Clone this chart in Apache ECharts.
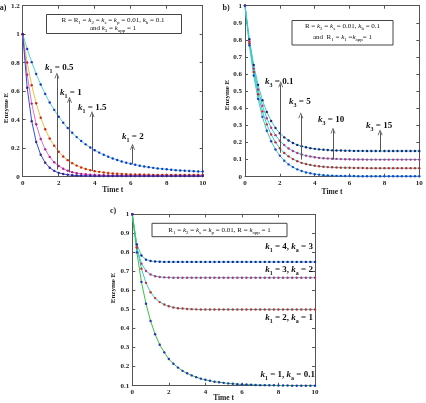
<!DOCTYPE html>
<html>
<head>
<meta charset="utf-8">
<script src="https://cdn.jsdelivr.net/npm/echarts@6/dist/echarts.min.js"></script>
<style>
html, body { margin: 0; padding: 0; background: #fff; }
#chart { width: 426px; height: 403px; }
</style>
</head>
<body>
<div id="chart"></div>
<script>
// time samples shared by all curves
const times = [0,0.25,0.5,0.75,1,1.25,1.5,1.75,2,2.25,2.5,2.75,3,3.25,3.5,3.75,4,4.25,4.5,4.75,5,5.25,5.5,5.75,6,6.25,6.5,6.75,7,7.25,7.5,7.75,8,8.25,8.5,8.75,9,9.25,9.5,9.75,10];

// a) enzyme E for k1 = 0.5, 1, 1.5, 2
const aK1_05 = [1.0,0.896,0.804,0.721,0.647,0.581,0.521,0.469,0.421,0.379,0.342,0.308,0.278,0.251,0.227,0.205,0.186,0.169,0.154,0.140,0.128,0.117,0.107,0.098,0.091,0.084,0.077,0.072,0.067,0.062,0.058,0.055,0.052,0.049,0.046,0.044,0.042,0.040,0.039,0.037,0.036];
const aK1_1 = [1.0,0.801,0.642,0.515,0.414,0.333,0.268,0.217,0.175,0.142,0.116,0.095,0.078,0.065,0.054,0.046,0.039,0.034,0.029,0.026,0.023,0.021,0.019,0.018,0.016,0.016,0.015,0.014,0.014,0.013,0.013,0.013,0.013,0.012,0.012,0.012,0.012,0.012,0.012,0.012,0.012];
const aK1_15 = [1.0,0.716,0.513,0.368,0.265,0.192,0.139,0.101,0.075,0.056,0.042,0.032,0.025,0.020,0.017,0.014,0.012,0.011,0.010,0.009,0.009,0.009,0.009,0.009,0.009,0.008,0.008,0.008,0.008,0.008,0.008,0.008,0.008,0.008,0.008,0.008,0.008,0.008,0.008,0.008,0.008];
const aK1_2 = [1.0,0.624,0.390,0.244,0.154,0.098,0.063,0.041,0.027,0.019,0.014,0.010,0.008,0.007,0.006,0.006,0.005,0.005,0.005,0.005,0.005,0.005,0.005,0.005,0.005,0.005,0.005,0.005,0.005,0.005,0.005,0.005,0.005,0.005,0.005,0.005,0.005,0.005,0.005,0.005,0.005];

// b) enzyme E for k3 = 0.1, 5, 10, 15
const bK3_01 = [1.0,0.769,0.592,0.455,0.350,0.269,0.207,0.159,0.123,0.094,0.072,0.056,0.043,0.033,0.025,0.020,0.015,0.012,0.009,0.007,0.006,0.005,0.005,0.004,0.004,0.004,0.003,0.003,0.003,0.003,0.003,0.003,0.003,0.003,0.003,0.003,0.003,0.003,0.003,0.003,0.003];
const bK3_5 = [1.0,0.781,0.612,0.482,0.382,0.306,0.247,0.201,0.166,0.139,0.119,0.103,0.091,0.081,0.074,0.069,0.064,0.061,0.058,0.056,0.055,0.054,0.053,0.052,0.052,0.051,0.051,0.051,0.050,0.050,0.050,0.050,0.050,0.050,0.050,0.050,0.050,0.050,0.050,0.050,0.050];
const bK3_10 = [1.0,0.792,0.632,0.510,0.415,0.342,0.286,0.243,0.210,0.185,0.165,0.150,0.139,0.130,0.123,0.118,0.114,0.110,0.108,0.106,0.105,0.104,0.103,0.102,0.102,0.101,0.101,0.101,0.100,0.100,0.100,0.100,0.100,0.100,0.100,0.100,0.100,0.100,0.100,0.100,0.100];
const bK3_15 = [1.0,0.804,0.653,0.537,0.447,0.379,0.326,0.285,0.254,0.230,0.212,0.197,0.186,0.178,0.172,0.167,0.163,0.160,0.158,0.156,0.154,0.153,0.153,0.152,0.152,0.151,0.151,0.151,0.150,0.150,0.150,0.150,0.150,0.150,0.150,0.150,0.150,0.150,0.150,0.150,0.150];

// c) enzyme E for (k1, ka) pairs
const cK4_3 = [1.0,0.842,0.784,0.762,0.755,0.752,0.751,0.750,0.750,0.750,0.750,0.750,0.750,0.750,0.750,0.750,0.750,0.750,0.750,0.750,0.750,0.750,0.750,0.750,0.750,0.750,0.750,0.750,0.750,0.750,0.750,0.750,0.750,0.750,0.750,0.750,0.750,0.750,0.750,0.750,0.750];
const cK3_2 = [1.0,0.824,0.741,0.702,0.684,0.675,0.671,0.669,0.668,0.667,0.667,0.667,0.667,0.667,0.667,0.667,0.667,0.667,0.667,0.667,0.667,0.667,0.667,0.667,0.667,0.667,0.667,0.667,0.667,0.667,0.667,0.667,0.667,0.667,0.667,0.667,0.667,0.667,0.667,0.667,0.667];
const cK2_1 = [1.0,0.827,0.714,0.640,0.591,0.560,0.539,0.526,0.517,0.511,0.507,0.505,0.503,0.502,0.501,0.500,0.500,0.500,0.500,0.500,0.500,0.500,0.500,0.500,0.500,0.500,0.500,0.500,0.500,0.500,0.500,0.500,0.500,0.500,0.500,0.500,0.500,0.500,0.500,0.500,0.500];
const cK1_01 = [1.0,0.80,0.645,0.53,0.44,0.37,0.315,0.275,0.24,0.215,0.195,0.178,0.165,0.154,0.145,0.137,0.131,0.126,0.121,0.118,0.115,0.112,0.110,0.108,0.107,0.106,0.105,0.104,0.103,0.103,0.102,0.102,0.101,0.101,0.101,0.100,0.100,0.100,0.100,0.100,0.100];

// annotation arrows: [t, from E, to E]
const arrowsA = [[1.9, 0.05, 0.71], [2.6, 0.03, 0.54], [3.85, 0.04, 0.44], [6.1, 0.09, 0.21]];
const arrowsB = [[2.05, 0.14, 0.54], [3.2, 0.10, 0.36], [5.05, 0.10, 0.27], [7.75, 0.145, 0.26]];

// axis ranges
const xTicks = { min: 0, max: 10, interval: 2 };
const yRangeA = { min: 0, max: 1.2, interval: 0.2 };
const yRangeB = { min: 0, max: 1, interval: 0.1 };
const yRangeC = { min: 0.1, max: 1, interval: 0.1 };

const serif = '"Liberation Serif", "DejaVu Serif", serif';
const frame = '#555';

function pts(vals) {
    return times.map(function (t, i) { return [t, vals[i]]; });
}

function xAx(gi, labels) {
    return Object.assign({
        type: 'value', gridIndex: gi, position: labels ? 'bottom' : 'top',
        axisLine: { show: true, onZero: false, lineStyle: { color: frame, width: 1 } },
        axisTick: { show: true, inside: true, length: 3, lineStyle: { color: frame } },
        axisLabel: { show: labels, fontSize: 7, fontWeight: 'bold', fontFamily: serif, color: '#222', margin: 3 },
        splitLine: { show: false }
    }, xTicks);
}

function yAx(gi, range, labels) {
    return Object.assign({
        type: 'value', gridIndex: gi, position: labels ? 'left' : 'right',
        axisLine: { show: true, onZero: false, lineStyle: { color: frame, width: 1 } },
        axisTick: { show: true, inside: true, length: 3, lineStyle: { color: frame } },
        axisLabel: { show: labels, fontSize: 7, fontWeight: 'bold', fontFamily: serif, color: '#222', margin: 3 },
        splitLine: { show: false }
    }, range);
}

function curve(gi, vals, lineColor, dotColor) {
    return {
        type: 'line', xAxisIndex: gi * 2, yAxisIndex: gi * 2,
        data: pts(vals), symbol: 'circle', symbolSize: 2.4, showSymbol: true,
        lineStyle: { color: lineColor, width: 1 },
        itemStyle: { color: dotColor },
        silent: true, z: 3
    };
}

const arrowHead = 'path://M0,10 L5,0 L10,10 L8.4,10 L5,3.2 L1.6,10 Z';

function withArrows(s, list) {
    s.markLine = {
        silent: true, animation: false,
        symbol: ['none', arrowHead], symbolSize: [5, 6],
        label: { show: false },
        lineStyle: { color: '#555', width: 1, type: 'solid' },
        emphasis: { disabled: true },
        data: list.map(function (a) { return [{ coord: [a[0], a[1]] }, { coord: [a[0], a[2]] }]; })
    };
    return s;
}

// rich text pieces for subscripts
const rich = {
    n: { fontSize: 9, fontWeight: 'bold', fontFamily: serif, fill: '#111', lineHeight: 12 },
    k: { fontSize: 9, fontWeight: 'bold', fontStyle: 'italic', fontFamily: serif, fill: '#111', lineHeight: 12 },
    s: { fontSize: 6, fontWeight: 'bold', fontFamily: serif, fill: '#111', verticalAlign: 'bottom', lineHeight: 9 },
    m: { fontSize: 7, fontFamily: serif, fill: '#111', lineHeight: 10 },
    mk: { fontSize: 7, fontStyle: 'italic', fontFamily: serif, fill: '#111', lineHeight: 10 },
    ms: { fontSize: 5, fontFamily: serif, fill: '#111', verticalAlign: 'bottom', lineHeight: 8 }
};

function label(x, y, text, align) {
    return {
        type: 'text', x: x, y: y, z: 10, silent: true,
        style: { text: text, rich: rich, align: align || 'left', verticalAlign: 'middle', textAlign: align || 'left', textVerticalAlign: 'middle' }
    };
}

function plain(x, y, text, size, rot) {
    return {
        type: 'text', x: x, y: y, rotation: rot || 0, z: 10, silent: true,
        style: { text: text, fontSize: size, fontWeight: 'bold', fontFamily: serif, fill: '#222', align: 'center', verticalAlign: 'middle', textAlign: 'center', textVerticalAlign: 'middle' }
    };
}

function box(x, y, w, h) {
    return { type: 'rect', z: 9, silent: true, shape: { x: x, y: y, width: w, height: h }, style: { fill: '#fff', stroke: '#444', lineWidth: 1 } };
}

const chart = echarts.init(document.getElementById('chart'), null, { renderer: 'canvas' });

chart.setOption({
    animation: false,
    backgroundColor: '#fff',
    grid: [
        { left: 22.7, top: 5.7, width: 180, height: 171, outerBoundsMode: 'none' },
        { left: 245, top: 5.7, width: 174.3, height: 171, outerBoundsMode: 'none' },
        { left: 132.3, top: 214.3, width: 182.7, height: 171.4, outerBoundsMode: 'none' }
    ],
    xAxis: [xAx(0, true), xAx(0, false), xAx(1, true), xAx(1, false), xAx(2, true), xAx(2, false)],
    yAxis: [yAx(0, yRangeA, true), yAx(0, yRangeA, false), yAx(1, yRangeB, true), yAx(1, yRangeB, false), yAx(2, yRangeC, true), yAx(2, yRangeC, false)],
    series: [
        withArrows(curve(0, aK1_05, '#4fd6d6', '#1f2fd0'), arrowsA),
        curve(0, aK1_1, '#e8c040', '#d02020'),
        curve(0, aK1_15, '#e070c0', '#b02090'),
        curve(0, aK1_2, '#3050e0', '#402080'),

        withArrows(curve(1, bK3_15, '#40c8c8', '#20207a'), arrowsB),
        curve(1, bK3_10, '#40c8c8', '#c03088'),
        curve(1, bK3_5, '#40c8c8', '#c82828'),
        curve(1, bK3_01, '#40c8c8', '#2040d8'),

        curve(2, cK4_3, '#40c8c8', '#20209a'),
        curve(2, cK3_2, '#40c8c8', '#c03078'),
        curve(2, cK2_1, '#40c8c8', '#c83030'),
        curve(2, cK1_01, '#40c040', '#2030c8')
    ],
    graphic: [
        plain(3, 8, 'a)', 8),
        plain(226, 8, 'b)', 8),
        plain(113, 211, 'c)', 8),

        plain(112.7, 190.5, 'Time t', 7.5),
        plain(332, 192.5, 'Time t', 7.5),
        plain(223.6, 398.5, 'Time t', 7.5),
        plain(6, 108, 'Enzyme E', 7, Math.PI / 2),
        plain(227, 95, 'Enzyme E', 7, Math.PI / 2),
        plain(113, 288, 'Enzyme E', 7, Math.PI / 2),

        box(46.5, 14.5, 135, 19),
        label(113, 20, '{m|R = R}{ms|1}{m| = }{mk|k}{ms|2}{m| = }{mk|k}{ms|s}{m| = }{mk|k}{ms|p}{m| = 0.01, }{mk|k}{ms|b}{m| = 0.1}', 'center'),
        label(113, 28.5, '{m|and }{mk|k}{ms|3}{m| = }{mk|k}{ms|app}{m| = 1}', 'center'),
        box(292, 20.5, 101, 24.5),
        label(342.5, 26.5, '{m|R = }{mk|k}{ms|2}{m| = }{mk|k}{ms|s}{m| = 0.01, }{mk|k}{ms|b}{m| = 0.1}', 'center'),
        label(342.5, 37.5, '{m|and  R}{ms|1}{m| = }{mk|k}{ms|1}{m| =}{mk|k}{ms|app}{m|= 1}', 'center'),
        box(152, 223.3, 135, 13.4),
        label(219.5, 230, '{m|R}{ms|1}{m| = }{mk|k}{ms|2}{m| = }{mk|k}{ms|s}{m| = }{mk|k}{ms|p}{m| = 0.01, R = }{mk|k}{ms|app}{m| = 1}', 'center'),

        label(45, 68, '{k|k}{s|1}{n| = 0.5}'),
        label(60, 93, '{k|k}{s|1}{n| = 1}'),
        label(78, 108, '{k|k}{s|1}{n| = 1.5}'),
        label(122, 137, '{k|k}{s|1}{n| = 2}'),

        label(265, 82, '{k|k}{s|3}{n| = 0.1}'),
        label(289, 102, '{k|k}{s|3}{n| = 5}'),
        label(318, 120, '{k|k}{s|3}{n| = 10}'),
        label(366, 126, '{k|k}{s|3}{n| = 15}'),

        label(313, 247, '{k|k}{s|1}{n| = 4, }{k|k}{s|a}{n| = 3}', 'right'),
        label(313, 270, '{k|k}{s|1}{n| = 3, }{k|k}{s|a}{n| = 2}', 'right'),
        label(313, 318, '{k|k}{s|1}{n| = 2, }{k|k}{s|a}{n| = 1}', 'right'),
        label(315, 375, '{k|k}{s|1}{n| = 1, }{k|k}{s|a}{n| = 0.1}', 'right')
    ]
});
</script>
</body>
</html>
